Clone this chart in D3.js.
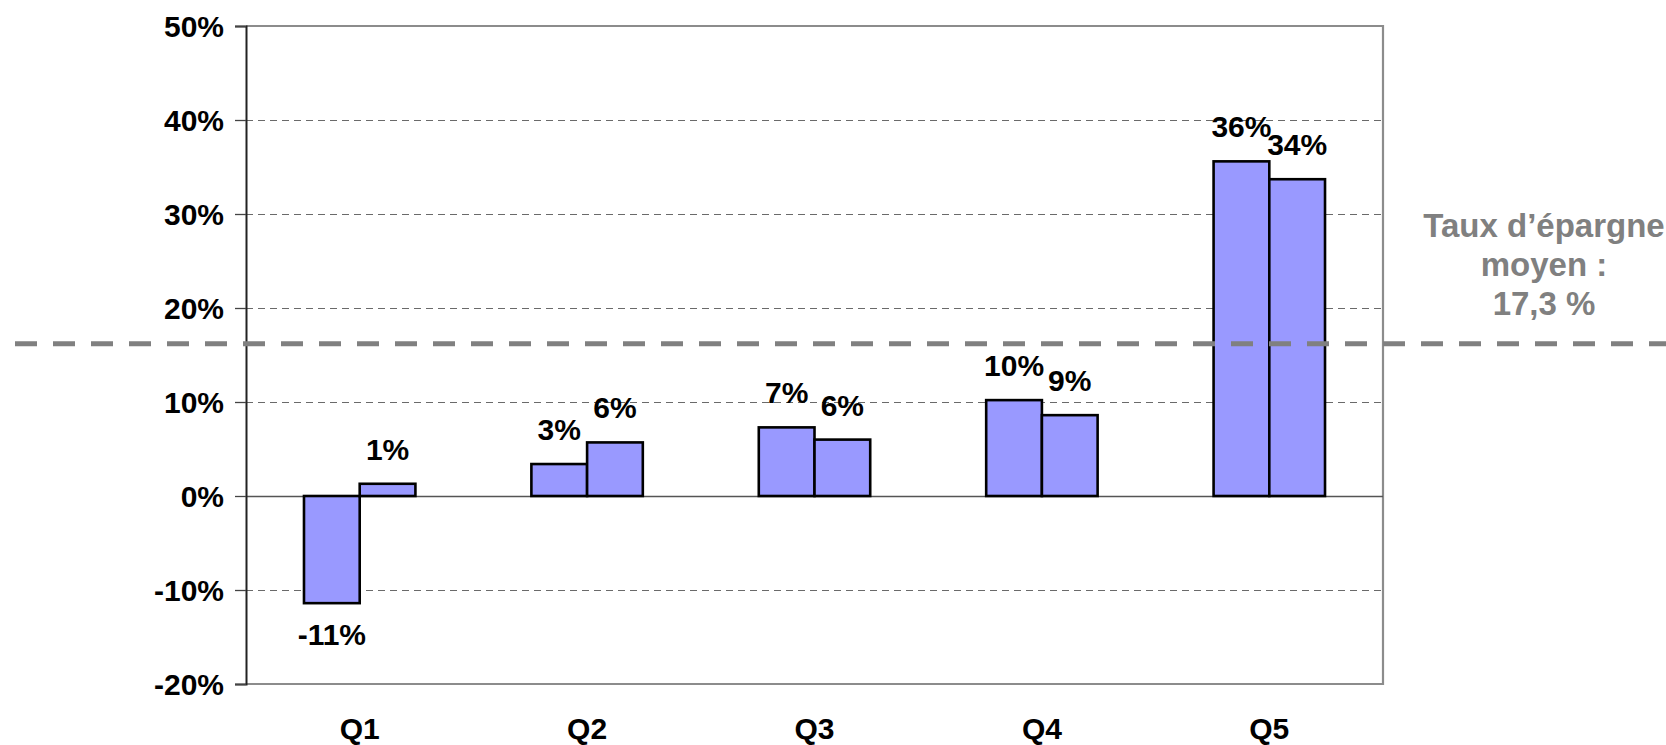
<!DOCTYPE html>
<html>
<head>
<meta charset="utf-8">
<title>Taux d'épargne par quintile</title>
<style>
  body { margin: 0; background: #fff; }
  svg text { font-family: "Liberation Sans", Arial, sans-serif; font-weight: bold; }
</style>
</head>
<body>
<svg id="chart" width="1666" height="745"></svg>
<script src="https://cdn.jsdelivr.net/npm/d3@7"></script>
<script>
// data
let quintiles = ["Q1", "Q2", "Q3", "Q4", "Q5"]
let serieA = [-11.4, 3.4, 7.3, 10.2, 35.6]
let serieB = [1.3, 5.7, 6.0, 8.6, 33.7]
let yTicks = [-20, -10, 0, 10, 20, 30, 40, 50]
let moyenne = 16.2
let moyenneTexte = ["Taux d\u2019épargne", "moyen :", "17,3 %"]

let svg = d3.select("#chart")
let plotLeft = 246, plotRight = 1383, plotTop = 26, plotBottom = 684

let y = d3.scaleLinear().domain([-20, 50]).range([plotBottom, plotTop])
let x = d3.scaleBand().domain(quintiles).range([plotLeft, plotRight])
    .paddingInner(0.51).paddingOuter(0.255)
let xSub = d3.scaleBand().domain([0, 1]).range([0, x.bandwidth()])

// gridlines
svg.append("g").selectAll("line")
    .data(yTicks.filter(d => d != 0 && d != -20 && d != 50))
    .join("line")
    .attr("x1", plotLeft).attr("x2", plotRight)
    .attr("y1", d => Math.round(y(d)) + 0.5).attr("y2", d => Math.round(y(d)) + 0.5)
    .attr("stroke", "#6a6a6a").attr("stroke-width", 1.2)
    .attr("stroke-dasharray", "7,5")

// frame: top, right, bottom in grey
svg.append("path")
    .attr("d", `M${plotLeft},${y(50)}H${plotRight}V${y(-20)}H${plotLeft}`)
    .attr("fill", "none").attr("stroke", "#8c8c8c").attr("stroke-width", 2.2)

// zero line
svg.append("line")
    .attr("x1", plotLeft).attr("x2", plotRight)
    .attr("y1", Math.round(y(0)) + 0.5).attr("y2", Math.round(y(0)) + 0.5)
    .attr("stroke", "#555").attr("stroke-width", 1.3)

// bars
let rows = quintiles.map((q, i) => [
    {q: q, k: 0, v: serieA[i]},
    {q: q, k: 1, v: serieB[i]}
]).flat()

svg.append("g").selectAll("rect")
    .data(rows)
    .join("rect")
    .attr("x", d => x(d.q) + xSub(d.k))
    .attr("width", xSub.bandwidth())
    .attr("y", d => y(Math.max(0, d.v)))
    .attr("height", d => Math.abs(y(d.v) - y(0)))
    .attr("fill", "#9999ff")
    .attr("stroke", "#000")
    .attr("stroke-width", 2.6)

// value labels
svg.append("g").selectAll("text")
    .data(rows)
    .join("text")
    .attr("x", d => x(d.q) + xSub(d.k) + xSub.bandwidth() / 2)
    .attr("y", d => d.v >= 0 ? y(d.v) - 24 : y(d.v) + 42)
    .attr("text-anchor", "middle")
    .attr("font-size", "30px")
    .attr("fill", "#000")
    .text(d => Math.round(d.v) + "%")

// y axis
let yAxis = d3.axisLeft(y).tickValues(yTicks).tickSize(11).tickPadding(11)
    .tickFormat(d => d + "%")
let gy = svg.append("g").attr("transform", `translate(${plotLeft},0)`).call(yAxis)
gy.select(".domain").attr("stroke", "#222").attr("stroke-width", 2)
gy.selectAll(".tick line").attr("stroke", "#444").attr("stroke-width", 1.3)
gy.selectAll(".tick text")
    .attr("font-size", "30px").attr("fill", "#000")
    .attr("font-family", "Liberation Sans, Arial, sans-serif").attr("dy", "0.36em")

// x labels
let xAxis = d3.axisBottom(x).tickSize(0).tickPadding(0)
let gx = svg.append("g").attr("transform", `translate(0,${plotBottom})`).call(xAxis)
gx.select(".domain").remove()
gx.selectAll(".tick text")
    .attr("font-size", "30px").attr("fill", "#000")
    .attr("font-family", "Liberation Sans, Arial, sans-serif")
    .attr("dy", null).attr("y", 55)

// average line
svg.append("line")
    .attr("x1", 15).attr("x2", 1666)
    .attr("y1", y(moyenne)).attr("y2", y(moyenne))
    .attr("stroke", "#808080").attr("stroke-width", 5)
    .attr("stroke-dasharray", "22,16")

svg.append("text")
    .attr("x", 1544).attr("y", 237)
    .attr("text-anchor", "middle")
    .attr("font-size", "33px")
    .attr("fill", "#808080")
    .selectAll("tspan")
    .data(moyenneTexte)
    .join("tspan")
    .attr("x", 1544)
    .attr("dy", (d, i) => i == 0 ? 0 : 39)
    .text(d => d)
</script>
</body>
</html>
